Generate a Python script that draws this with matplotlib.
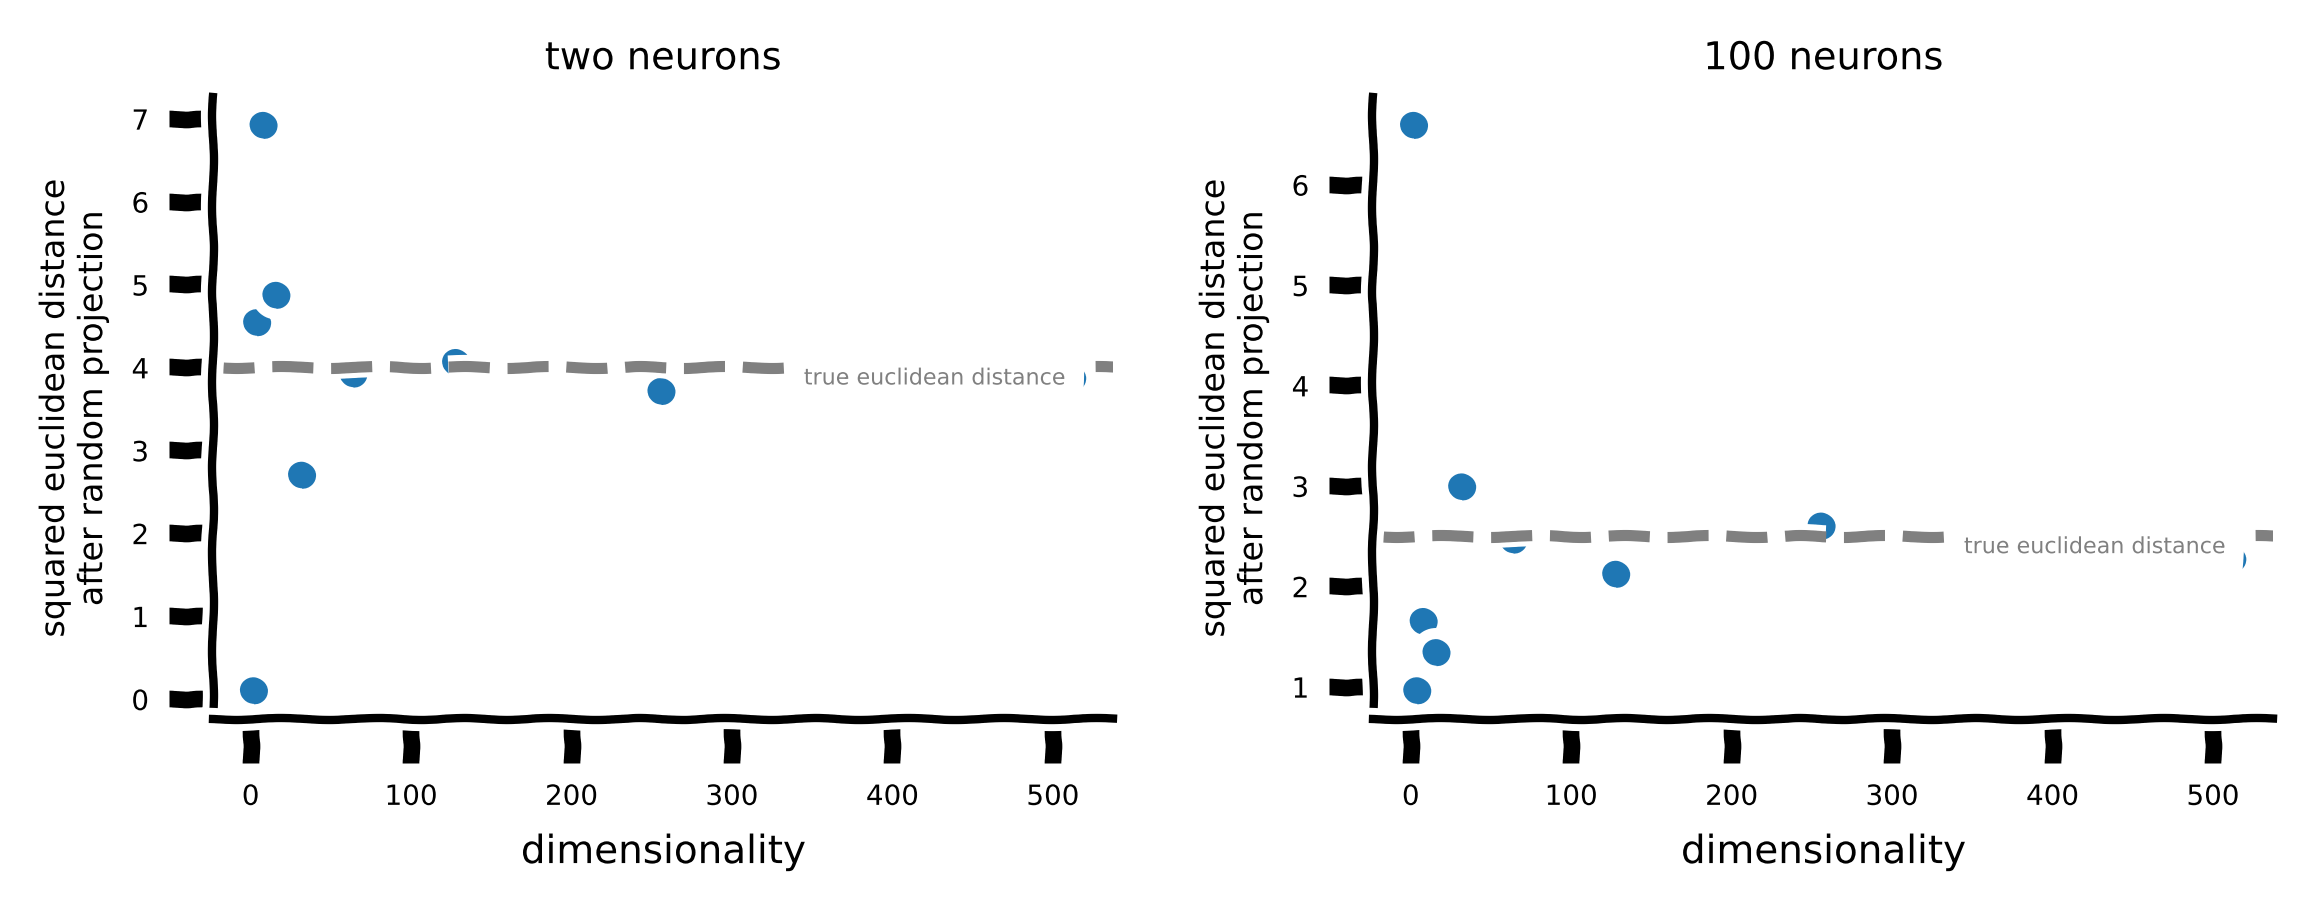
import matplotlib
matplotlib.use("Agg")
import matplotlib.pyplot as plt
import matplotlib.transforms as mtransforms

# ---- data ----
dims = [2, 4, 8, 16, 32, 64, 128, 256, 512]
dist_two = [0.10, 4.54, 6.92, 4.87, 2.70, 3.92, 4.06, 3.71, 3.87]
dist_hundred = [6.59, 0.96, 1.65, 1.34, 2.99, 2.46, 2.12, 2.60, 2.27]
true_two = 4.0
true_hundred = 2.5
titles = ["two neurons", "100 neurons"]
xticks = [0, 100, 200, 300, 400, 500]
yticks_two = [0, 1, 2, 3, 4, 5, 6, 7]
yticks_hundred = [1, 2, 3, 4, 5, 6]
xlabel = "dimensionality"
ylabel = "squared euclidean distance\nafter random projection"
line_label = "true euclidean distance"

DPI = 400
with plt.xkcd():
    plt.rcParams["font.family"] = ["DejaVu Sans"]
    fig = plt.figure(figsize=(2305 / DPI, 911 / DPI), dpi=DPI)
    positions = [[0.0924, 0.2108, 0.3905, 0.6827],
                 [0.5957, 0.2108, 0.3905, 0.6827]]
    series = [dist_two, dist_hundred]
    trues = [true_two, true_hundred]
    yticks_all = [yticks_two, yticks_hundred]
    for pos, ys, tv, title, yt in zip(positions, series, trues, titles, yticks_all):
        ax = fig.add_axes(pos)
        ax.plot(dims, ys, "o", ms=4.9, mew=0, color="#1f77b4")
        ax.axhline(tv, ls="--", color="gray", lw=2)
        trans = mtransforms.offset_copy(ax.transData, fig=fig, x=0, y=-2.0, units="points")
        ax.text(426.5, tv, line_label, color="gray", fontsize=4, ha="center", va="center",
                transform=trans,
                bbox=dict(boxstyle="square,pad=0.25", facecolor="white", edgecolor="none"))
        ax.spines["top"].set_visible(False)
        ax.spines["right"].set_visible(False)
        ax.set_xticks(xticks)
        ax.set_yticks(yt)
        ax.tick_params(labelsize=5)
        ax.set_xlabel(xlabel, fontsize=7)
        ax.set_ylabel(ylabel, fontsize=6)
        ax.set_title(title, fontsize=6.9, pad=5)
    fig.savefig("out.png", dpi=DPI)
